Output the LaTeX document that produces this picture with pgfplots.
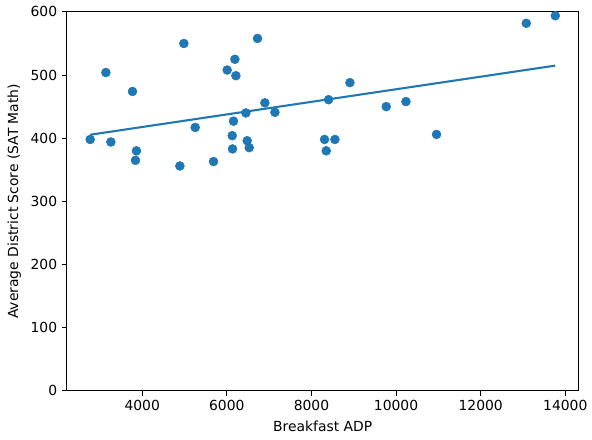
\documentclass[border=0pt]{standalone}
\usepackage{pgfplots}
\pgfplotsset{compat=1.18}
\usepackage{fontspec}
\setmainfont{DejaVu Sans}
\definecolor{tabblue}{HTML}{1F77B4}
\begin{document}
\begin{tikzpicture}
\begin{axis}[
  scale only axis,
  width=368.6pt, height=272.9pt,
  xmin=2221, xmax=14313,
  ymin=0, ymax=600,
  xtick={4000,6000,8000,10000,12000,14000},
  ytick={0,100,200,300,400,500,600},
  scaled x ticks=false,
  /pgf/number format/set thousands separator={},
  /pgf/number format/assume math mode=true,
  tick align=outside,
  major tick length=3.5pt,
  tick style={line width=0.8pt, black},
  axis line style={line width=0.8pt},
  every axis/.append style={font=\fontsize{10pt}{12pt}\selectfont},
  tick label style={font=\fontsize{10pt}{12pt}\selectfont},
  label style={font=\fontsize{10pt}{12pt}\selectfont},
  xlabel={Breakfast ADP},
  ylabel={Average District Score (SAT Math)},
  xtick pos=bottom, ytick pos=left,
  clip=false,
]
\addplot[only marks, mark=*, mark size=3.2pt, tabblue, mark options={fill=tabblue, draw=tabblue}] coordinates {
(2771,398) (3142,504) (3260,394) (3771,474) (3865,380) (3842,365)
(4985,550) (4891,356) (5253,417) (5686,363) (6009,508) (6191,525)
(6215,499) (6726,558) (6158,427) (6128,404) (6135,383) (6451,440)
(6482,396) (6530,385) (6900,456) (7137,441) (8310,398) (8405,461)
(8350,380) (8555,398) (8910,488) (9768,450) (10234,458) (10957,406)
(13078,582) (13763,594)
};
\addplot[tabblue, line width=1.5pt, no marks] coordinates {(2771,405.5) (13763,515)};
\end{axis}
\path (current axis.south west) ++(-48.2pt,-35.3pt) coordinate (bbsw);
\path (current axis.north east) ++(9.4pt,8.6pt) coordinate (bbne);
\useasboundingbox (bbsw) rectangle (bbne);
\end{tikzpicture}
\end{document}
